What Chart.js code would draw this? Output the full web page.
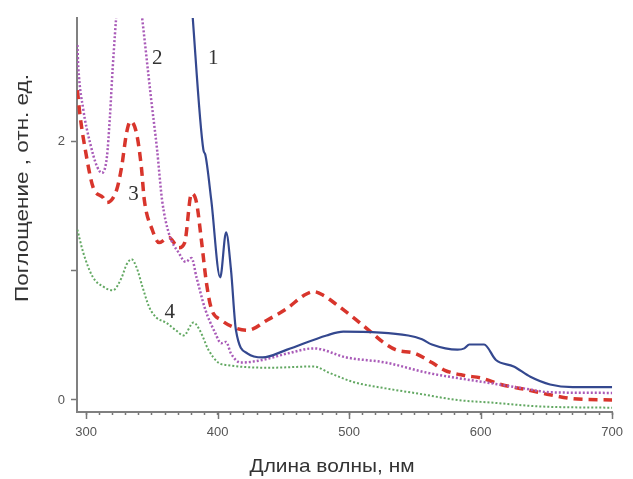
<!DOCTYPE html>
<html><head><meta charset="utf-8">
<script src="https://cdn.jsdelivr.net/npm/chart.js@4/dist/chart.umd.min.js"></script>
<style>html,body{margin:0;padding:0;background:#fff}#wrap{width:633px;height:479px;position:relative}</style>
</head><body><div id="wrap"><canvas id="c"></canvas></div>
<script>
// Curve 1 (blue, solid)
const nm1  = [380.0,389.1,390.6,395.1,401.9,406.4,410.1,413.9,422.8,434.1,452.8,482.8,495.5,544.9,555.4,562.9,582.4,587.6,591.4,602.6,611.6,625.1,637.8,652.8,670.0,700.0];
const abs1 = [3.10,1.94,1.90,1.55,0.95,1.30,1.01,0.54,0.36,0.33,0.39,0.50,0.53,0.50,0.47,0.43,0.39,0.40,0.43,0.43,0.31,0.26,0.18,0.12,0.10,0.10];
// Curve 2 (purple, dotted)
const nm2  = [293.3,294.0,297.8,303.0,308.2,312.0,315.7,318.0,320.2,323.5,332.0,341.5,349.4,353.9,357.7,362.9,370.4,375.7,380.1,383.9,390.6,398.1,402.6,406.4,410.1,417.6,434.0,452.8,473.0,497.8,527.7,559.9,582.4,607.9,632.6,652.8,700.0];
const abs2 = [2.75,2.58,2.25,1.99,1.81,1.76,1.88,2.19,2.58,3.05,3.80,3.05,2.33,1.94,1.55,1.29,1.14,1.07,1.10,0.95,0.70,0.52,0.44,0.45,0.36,0.29,0.31,0.36,0.40,0.33,0.29,0.21,0.17,0.13,0.09,0.06,0.055];
// Curve 3 (red, dashed)
const nm3  = [293.3,295.5,299.3,305.2,312.7,315.7,323.2,327.0,330.7,333.7,338.2,341.9,344.2,350.2,355.4,362.9,370.4,374.9,380.1,383.9,387.6,391.4,395.1,402.6,413.1,422.8,437.8,452.8,465.5,473.0,480.5,490.3,503.0,515.0,525.5,535.2,550.2,562.9,572.7,587.6,600.4,615.4,632.6,652.8,670.0,700.0];
const abs3 = [2.40,2.19,1.94,1.65,1.57,1.53,1.63,1.81,2.07,2.16,2.07,1.81,1.55,1.32,1.22,1.26,1.18,1.22,1.60,1.53,1.24,0.91,0.71,0.62,0.56,0.54,0.62,0.71,0.81,0.84,0.81,0.74,0.64,0.54,0.45,0.39,0.36,0.29,0.23,0.19,0.17,0.12,0.085,0.04,0.01,0.0];
// Curve 4 (green, dotted)
const nm4  = [293.3,297.8,305.2,312.7,320.2,327.0,330.7,334.5,338.2,342.7,347.9,353.2,360.7,368.2,374.2,381.6,386.9,392.9,400.4,407.9,440.1,473.0,485.0,503.0,527.7,552.4,582.4,607.9,645.3,700.0];
const abs4 = [1.32,1.14,0.95,0.88,0.85,0.95,1.05,1.09,1.03,0.88,0.72,0.64,0.60,0.54,0.50,0.60,0.53,0.39,0.29,0.27,0.25,0.26,0.21,0.14,0.09,0.05,0.00,-0.02,-0.05,-0.06];

const xMajorTicks = [300,400,500,600,700];
const yTicks = [0,1,2];
const yTickLabels = ['0','','2'];
const curveLabels = ['1','2','3','4'];
const curveLabelPos = [[396.6,2.65],[354.0,2.65],[336.0,1.59],[363.6,0.68]];
const xTitle = 'Длина волны, нм';
const yTitle = 'Поглощение , отн. ед.';

const pts = (xs, ys) => xs.map((x, i) => ({x, y: ys[i]}));
const xMinor = [];
for (let v = xMajorTicks[0]; v <= xMajorTicks[xMajorTicks.length-1]; v += 10) xMinor.push(v);

function stretchedText(ctx, text, cx, cy, targetW, rot) {
  const w = ctx.measureText(text).width;
  ctx.save();
  ctx.translate(cx, cy);
  if (rot) ctx.rotate(rot);
  ctx.scale(targetW / w, 1);
  ctx.fillText(text, 0, 0);
  ctx.restore();
}

const overlay = {
  id: 'overlay',
  afterDraw(chart) {
    const ctx = chart.ctx, xs = chart.scales.x, ys = chart.scales.y, a = chart.chartArea;
    ctx.save();
    ctx.strokeStyle = '#777'; ctx.lineWidth = 1.5;
    xMajorTicks.forEach(v => {
      const px = Math.round(xs.getPixelForValue(v)) + 0.5;
      ctx.beginPath(); ctx.moveTo(px, a.bottom); ctx.lineTo(px, a.bottom + 7); ctx.stroke();
    });
    ctx.fillStyle = '#333';
    ctx.font = '21px "Liberation Serif"';
    ctx.textAlign = 'center'; ctx.textBaseline = 'middle';
    curveLabels.forEach((t, i) => {
      ctx.fillText(t, xs.getPixelForValue(curveLabelPos[i][0]), ys.getPixelForValue(curveLabelPos[i][1]));
    });
    ctx.fillStyle = '#333';
    ctx.font = '19px "Liberation Sans"';
    stretchedText(ctx, xTitle, 332, 467, 165, 0);
    stretchedText(ctx, yTitle, 23, 188, 228, -Math.PI/2);
    ctx.restore();
  }
};

new Chart(document.getElementById('c'), {
  type: 'line',
  data: {
    datasets: [
      {data: pts(nm1, abs1), borderColor: '#34488f', borderWidth: 2.2, pointRadius: 0, fill: false, tension: 0},
      {data: pts(nm2, abs2), borderColor: '#a95bb8', borderWidth: 2.5, borderDash: [2,2], pointRadius: 0, fill: false, tension: 0},
      {data: pts(nm3, abs3), borderColor: '#d8352c', borderWidth: 3.5, borderDash: [9,6], pointRadius: 0, fill: false, tension: 0},
      {data: pts(nm4, abs4), borderColor: '#62a862', borderWidth: 2, borderDash: [2,2], pointRadius: 0, fill: false, tension: 0}
    ]
  },
  options: {
    responsive: true, maintainAspectRatio: false, animation: false,
    layout: {padding: {top: 18, right: 11, left: 0, bottom: 0}},
    plugins: {legend: {display: false}, tooltip: {enabled: false}},
    elements: {line: {cubicInterpolationMode: 'monotone'}},
    scales: {
      x: {
        type: 'linear', min: 293, max: 700,
        afterFit: s => { s.height = 67; },
        afterBuildTicks: s => { s.ticks = xMinor.map(v => ({value: v})); },
        grid: {drawOnChartArea: false, drawTicks: true, tickLength: 3, tickColor: '#777', tickWidth: 1.5},
        border: {color: '#808080', width: 2},
        ticks: {autoSkip: false, maxRotation: 0, padding: 10, color: '#555',
                font: {size: 13, family: 'Liberation Sans'},
                callback: v => xMajorTicks.includes(v) ? String(v) : ''}
      },
      y: {
        type: 'linear', min: -0.093, max: 2.96,
        afterFit: s => { s.width = 77; },
        afterBuildTicks: s => { s.ticks = yTicks.map(v => ({value: v})); },
        grid: {drawOnChartArea: false, drawTicks: true, tickLength: 6, tickColor: '#777', tickWidth: 1.5},
        border: {color: '#808080', width: 2},
        ticks: {autoSkip: false, padding: 6, color: '#555',
                font: {size: 13, family: 'Liberation Sans'},
                callback: (v, i) => yTickLabels[yTicks.indexOf(v)] ?? ''}
      }
    }
  },
  plugins: [overlay]
});
</script></body></html>
